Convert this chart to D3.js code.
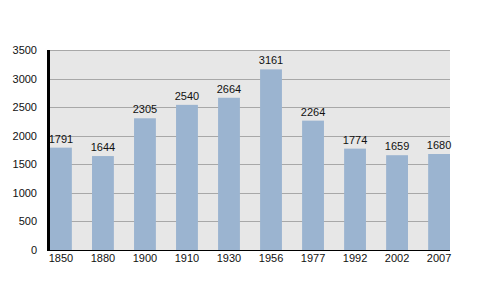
<!DOCTYPE html>
<html><head><meta charset="utf-8">
<script src="https://cdn.jsdelivr.net/npm/d3@7"></script>
<style>body{margin:0;background:#fff;}svg{display:block;}</style>
</head><body>
<script>
const years = ["1850","1880","1900","1910","1930","1956","1977","1992","2002","2007"];
const population = [1791,1644,2305,2540,2664,3161,2264,1774,1659,1680];
const yTicks = [0,500,1000,1500,2000,2500,3000,3500];

(function () {
const W = 500, H = 300;
const pLeft = 50, pRight = 450, pTop = 50, pBottom = 250;
const svg = d3.select("body").append("svg").attr("width", W).attr("height", H);

const x = d3.scaleBand().domain(years).range([pLeft, pRight]).paddingInner(0.48).paddingOuter(0);
const y = d3.scaleLinear().domain([0, 3500]).range([pBottom, pTop]);

svg.append("rect").attr("x", pLeft).attr("y", pTop).attr("width", pRight - pLeft).attr("height", pBottom - pTop).attr("fill", "#e7e7e7");

svg.append("g").selectAll("line").data(yTicks.slice(1)).join("line")
  .attr("x1", pLeft).attr("x2", pRight)
  .attr("y1", d => Math.round(y(d)) + 0.5).attr("y2", d => Math.round(y(d)) + 0.5)
  .attr("stroke", "#a8a8a8").attr("stroke-width", 1);

svg.append("g").selectAll("rect").data(population).join("rect")
  .attr("x", (d, i) => x(years[i])).attr("width", x.bandwidth())
  .attr("y", d => y(d)).attr("height", d => pBottom - y(d))
  .attr("fill", "#9bb4d0");

svg.append("g").selectAll("text").data(population).join("text")
  .attr("x", (d, i) => x(years[i]) + x.bandwidth() / 2)
  .attr("y", d => y(d) - 5)
  .attr("text-anchor", "middle")
  .attr("font-family", "Liberation Sans, Arial, sans-serif").attr("font-size", 11)
  .attr("fill", "#111").text(d => d);

const yAxis = svg.append("g").attr("transform", `translate(${pLeft},0)`)
  .call(d3.axisLeft(y).tickValues(yTicks).tickFormat(d3.format("d")).tickSize(0).tickPadding(13));
yAxis.select(".domain").remove();
yAxis.selectAll("text").attr("font-family", "Liberation Sans, Arial, sans-serif").attr("font-size", 11).attr("fill", "#111");

const xAxis = svg.append("g").attr("transform", `translate(0,${pBottom})`)
  .call(d3.axisBottom(x).tickSize(0).tickPadding(4));
xAxis.select(".domain").remove();
xAxis.selectAll("text").attr("font-family", "Liberation Sans, Arial, sans-serif").attr("font-size", 11).attr("fill", "#111");

svg.append("line").attr("x1", pLeft).attr("x2", pRight).attr("y1", pBottom + 0.5).attr("y2", pBottom + 0.5).attr("stroke", "#000").attr("stroke-width", 1);
svg.append("line").attr("x1", pLeft - 1.5).attr("x2", pLeft - 1.5).attr("y1", pTop).attr("y2", pBottom + 1).attr("stroke", "#000").attr("stroke-width", 3);
})();
</script>
</body></html>
